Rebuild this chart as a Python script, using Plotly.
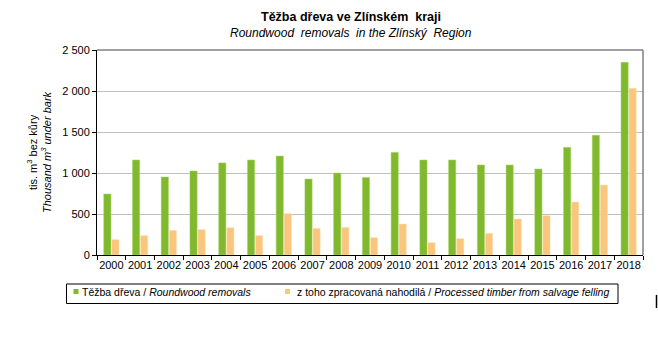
import plotly.graph_objects as go

years = [str(y) for y in range(2000, 2019)]
roundwood = [744, 1159, 951, 1025, 1123, 1159, 1207, 927, 1000, 945,
             1252, 1159, 1159, 1098, 1098, 1049, 1313, 1460, 2350]
salvage = [187, 236, 301, 309, 333, 236, 504, 325, 337, 211,
           378, 150, 199, 264, 439, 480, 646, 854, 2033]
y_ticks = [0, 500, 1000, 1500, 2000, 2500]
legend_names = ["Těžba dřeva / <i>Roundwood removals</i>",
                "z toho zpracovaná nahodilá / <i>Processed timber from salvage felling</i>"]

GREEN = "#80B92E"
ORANGE = "#FAC67D"
FONT = "Liberation Sans, Arial, sans-serif"

W, H = 658, 344
L, R, T, B = 97, 15, 50, 89
PW, PH = W - L - R, H - T - B


def px(x):
    return (x - L) / PW


def py(y):
    return (H - B - y) / PH


fig = go.Figure()
fig.add_trace(go.Bar(x=years, y=roundwood, name=legend_names[0],
                     marker=dict(color=GREEN, line=dict(color="#A9D66A", width=0.5))))
fig.add_trace(go.Bar(x=years, y=salvage, name=legend_names[1],
                     marker=dict(color=ORANGE, line=dict(color="#FDE0B5", width=0.5))))

fig.update_layout(
    width=W, height=H,
    margin=dict(l=L, r=R, t=T, b=B),
    paper_bgcolor="white", plot_bgcolor="white",
    font=dict(family=FONT, size=11, color="black"),
    separators=", ",
    barmode="group", bargap=0.44, bargroupgap=0.1,
    showlegend=False,
    xaxis=dict(type="category", showline=True, linecolor="black", linewidth=1,
               ticks="outside", tickson="boundaries", ticklen=4, tickcolor="black",
               showgrid=False, tickfont=dict(size=11), tickangle=0, automargin=False),
    yaxis=dict(range=[0, 2500], tickvals=y_ticks, tickformat=",d",
               showline=True, linecolor="black", linewidth=1,
               ticks="outside", ticklen=4, tickcolor="black",
               showgrid=True, gridcolor="#C0C0C0", gridwidth=1,
               tickfont=dict(size=11), zeroline=False, automargin=False),
)

# top and right frame lines
fig.add_shape(type="line", xref="paper", yref="paper", x0=0, x1=1, y0=1, y1=1,
              line=dict(color="#808080", width=1.5))
fig.add_shape(type="line", xref="paper", yref="paper", x0=1, x1=1, y0=0, y1=1,
              line=dict(color="#808080", width=1.5))

# titles
fig.add_annotation(text="<b>Těžba dřeva ve Zlínském  kraji</b>", xref="paper", yref="paper",
                   x=px(351), y=py(17), xanchor="center", yanchor="middle",
                   showarrow=False, font=dict(size=12.5))
fig.add_annotation(text="<i>Roundwood  removals  in the Zlínský  Region</i>", xref="paper", yref="paper",
                   x=px(351), y=py(33), xanchor="center", yanchor="middle",
                   showarrow=False, font=dict(size=12))
fig.add_annotation(text="tis. m<sup>3</sup> bez kůry<br><i>Thousand m<sup>3</sup> under bark</i>",
                   xref="paper", yref="paper", x=px(39), y=py(152),
                   xanchor="center", yanchor="middle", textangle=-90, showarrow=False,
                   font=dict(size=11))

# legend (box, swatches, labels)
fig.add_shape(type="rect", xref="paper", yref="paper", x0=px(66.5), x1=px(618), y0=py(284), y1=py(303.5),
              line=dict(color="black", width=1), fillcolor="white")
for cx, col, tx, name in [(76, GREEN, 82, legend_names[0]), (287.5, ORANGE, 297, legend_names[1])]:
    fig.add_shape(type="rect", xref="paper", yref="paper", x0=px(cx - 2.5), x1=px(cx + 2.5),
                  y0=py(289), y1=py(294), line=dict(width=0), fillcolor=col)
    fig.add_annotation(text=name, xref="paper", yref="paper", x=px(tx), y=py(292),
                       xanchor="left", yanchor="middle", showarrow=False,
                       font=dict(size=10.5), xshift=-2)

# small vertical mark at the right edge of the picture
fig.add_shape(type="line", xref="paper", yref="paper", x0=px(656.5), x1=px(656.5), y0=py(295), y1=py(308),
              line=dict(color="black", width=1.5))

fig.write_html("out.html")
